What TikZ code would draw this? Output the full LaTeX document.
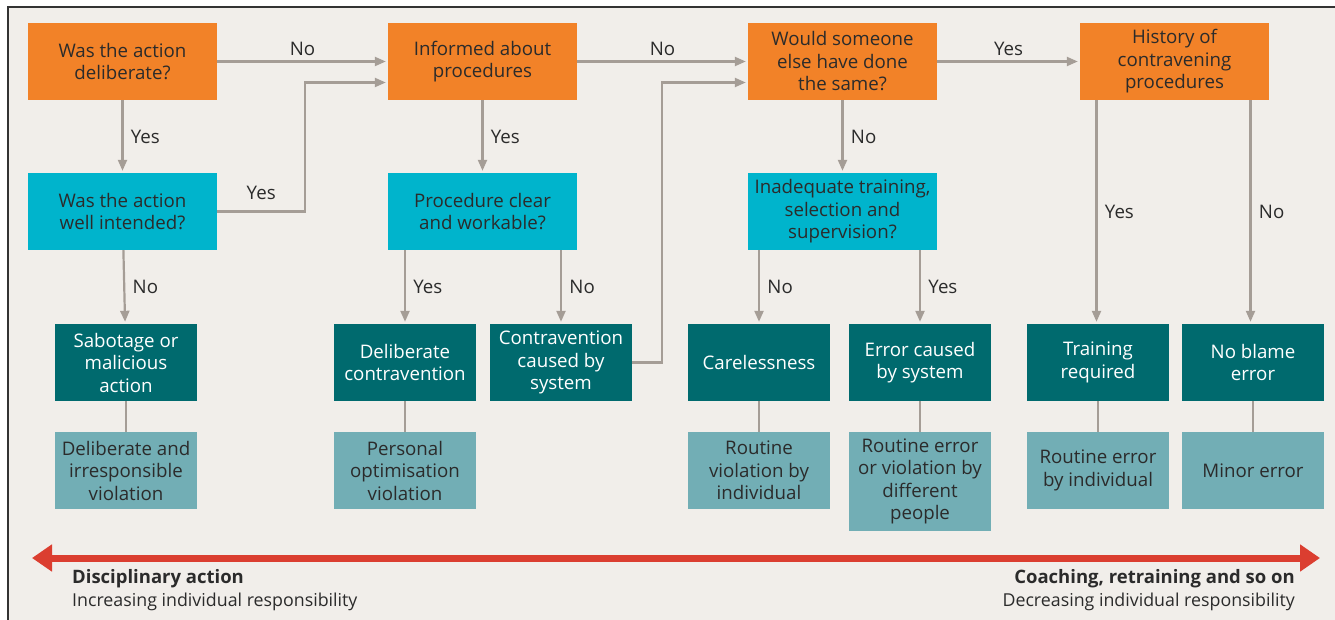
\documentclass[tikz,border=0pt]{standalone}
\usepackage{fontspec}
\setmainfont{Open Sans}
\usepackage{tikz}
\usetikzlibrary{arrows.meta}
\definecolor{bgcol}{HTML}{F1EEEA}
\definecolor{askcol}{HTML}{F28228}
\definecolor{subcol}{HTML}{00B4CC}
\definecolor{outcol}{HTML}{006A6E}
\definecolor{kindcol}{HTML}{72AEB5}
\definecolor{flowcol}{HTML}{A59D96}
\definecolor{redcol}{HTML}{DB3E30}
\definecolor{txtcol}{HTML}{2B2B2B}

\begin{document}
\begin{tikzpicture}[x=1pt, y=-1pt]
	\tikzset{box/.style = {shape=rectangle, align=center, inner sep=0pt, text=txtcol, font=\fontsize{18.7}{22.5}\selectfont},
		ask/.style = {box, fill=askcol, minimum width=189pt, minimum height=77pt},
		sub/.style = {box, fill=subcol, minimum width=189pt, minimum height=77pt},
		outcome/.style = {box, fill=outcol, text=white, minimum width=142pt, minimum height=77pt},
		kind/.style = {box, fill=kindcol, minimum width=142pt, minimum height=77pt},
		flow/.style = {draw=flowcol, line width=2.2pt, -{Triangle[length=11pt, width=9pt]}, shorten >=2pt},
		link/.style = {draw=flowcol, line width=2.2pt},
		lbl/.style = {font=\fontsize{18.7}{22}\selectfont, text=txtcol},
		foot/.style = {lbl, inner sep=0pt, font=\fontsize{17.8}{21}\selectfont}}
	\useasboundingbox (0,0) rectangle (1335,620);
	\fill[bgcol] (8,7) rectangle (1335,620);
	\draw[line width=2pt, black!80] (8,620) -- (8,7) -- (1335,7);

	% questions
	\node[ask] (del) at (122.5,61.5) {Was the action\\deliberate?};
	\node[ask] (inf) at (482.5,61.5) {Informed about\\procedures};
	\node[ask] (same) at (842.5,61.5) {Would someone\\else have done\\the same?};
	\node[ask] (hist) at (1174.5,61.5) {History of\\contravening\\procedures};
	\node[sub] (well) at (122.5,211.5) {Was the action\\well intended?};
	\node[sub] (clear) at (482.5,211.5) {Procedure clear\\and workable?};
	\node[sub] (train) at (842.5,211.5) {Inadequate training,\\selection and\\supervision?};

	% outcomes
	\node[outcome] (sab) at (126,362.5) {Sabotage or\\malicious\\action};
	\node[outcome] (dc) at (405,362.5) {Deliberate\\contravention};
	\node[outcome] (cs) at (561,362.5) {Contravention\\caused by\\system};
	\node[outcome] (care) at (759,362.5) {Carelessness};
	\node[outcome] (es) at (920,362.5) {Error caused\\by system};
	\node[outcome] (tr) at (1098,362.5) {Training\\required};
	\node[outcome] (nb) at (1253,362.5) {No blame\\error};

	\node[kind] (sabv) at (126,470.5) {Deliberate and\\irresponsible\\violation};
	\node[kind] (dcv) at (405,470.5) {Personal\\optimisation\\violation};
	\node[kind] (carev) at (759,470.5) {Routine\\violation by\\individual};
	\node[kind, minimum height=99pt] (esv) at (920,481.5) {Routine error\\or violation by\\different\\people};
	\node[kind] (trv) at (1098,470.5) {Routine error\\by individual};
	\node[kind] (nbv) at (1253,470.5) {Minor error};

	% decisions
	\draw[flow] (del) -- node[lbl, above=1pt] {No} (inf);
	\draw[flow] (inf) -- node[lbl, above=1pt] {No} (same);
	\draw[flow] (same) -- node[lbl, above=1pt] {Yes} (hist);
	\draw[flow] (del) -- node[lbl, right=4pt] {Yes} (well);
	\draw[flow] (inf) -- node[lbl, right=4pt] {Yes} (clear);
	\draw[flow] (same) -- node[lbl, right=4pt] {No} (train);
	\draw[flow] (well.east) -- node[lbl, above=7pt] {Yes} ++(88,0) |- ([yshift=-21pt]inf.west);
	\draw[flow] (cs.east) -- ++(30,0) |- ([yshift=-21pt]same.west);
	\draw[flow] (well) -- node[lbl, right=4pt] {No} (sab);
	\draw[flow] (dc.north |- clear.south) -- node[lbl, right=4pt] {Yes} (dc.north);
	\draw[flow] (cs.north |- clear.south) -- node[lbl, right=4pt] {No} (cs.north);
	\draw[flow] (care.north |- train.south) -- node[lbl, right=4pt] {No} (care.north);
	\draw[flow] (es.north |- train.south) -- node[lbl, right=4pt] {Yes} (es.north);
	\draw[flow] ([xshift=-78pt]hist.south) -- node[lbl, right=4pt] {Yes} ([xshift=-78pt]hist.south |- tr.north);
	\draw[flow] ([xshift=76pt]hist.south) -- node[lbl, right=4pt] {No} ([xshift=76pt]hist.south |- nb.north);
	\foreach \u/\v in {sab/sabv, dc/dcv, care/carev, es/esv, tr/trv, nb/nbv}{
		\draw[link] (\u) -- (\v);
	}

	% scale of responsibility
	\coordinate (lft) at (32,558);
	\coordinate (rgt) at (1320,558);
	\draw[redcol, line width=7pt, {Triangle[length=20pt, width=26pt]}-{Triangle[length=20pt, width=26pt]}] (lft) -- (rgt);
	\node[foot, anchor=base west, font=\fontsize{18.5}{21}\selectfont\bfseries] (disc) at (72,583) {Disciplinary action};
	\node[foot, anchor=base west] (inc) at (72,606) {Increasing individual responsibility};
	\node[foot, anchor=base east, font=\fontsize{18.5}{21}\selectfont\bfseries] (coach) at (1295,583) {Coaching, retraining and so on};
	\node[foot, anchor=base east] (dec) at (1295,606) {Decreasing individual responsibility};
\end{tikzpicture}
\end{document}
